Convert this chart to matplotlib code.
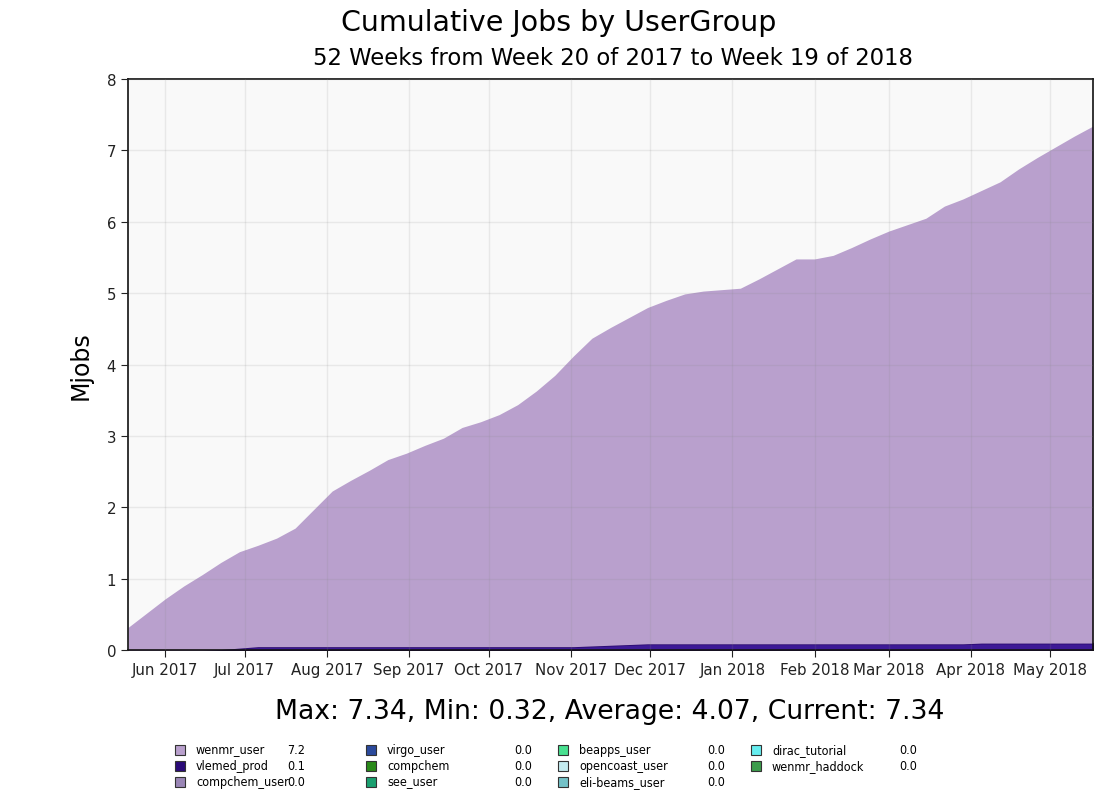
import numpy as np
import pandas as pd
import matplotlib
matplotlib.use('Agg')
import matplotlib.pyplot as plt
import matplotlib.dates as mdates
from matplotlib import font_manager as fm
from matplotlib.patches import Rectangle

# weekly bins, week 20 of 2017 .. week 19 of 2018
weeks = pd.date_range('2017-05-18', periods=53, freq='7D')

# cumulative jobs (millions)
vlemed_prod = [0.0, 0.0, 0.0, 0.0, 0.0, 0.01, 0.03, 0.05, 0.05, 0.05,
               0.05, 0.05, 0.05, 0.05, 0.05, 0.05, 0.05, 0.05, 0.05, 0.05,
               0.05, 0.05, 0.05, 0.05, 0.05, 0.06, 0.07, 0.08, 0.09, 0.09,
               0.09, 0.09, 0.09, 0.09, 0.09, 0.09, 0.09, 0.09, 0.09, 0.09,
               0.09, 0.09, 0.09, 0.09, 0.09, 0.09, 0.10, 0.10, 0.10, 0.10,
               0.10, 0.10, 0.10]
total = [0.32, 0.52, 0.72, 0.90, 1.06, 1.23, 1.38, 1.47, 1.57, 1.71,
         1.97, 2.23, 2.38, 2.52, 2.67, 2.76, 2.87, 2.97, 3.12, 3.20,
         3.30, 3.44, 3.63, 3.85, 4.12, 4.37, 4.52, 4.66, 4.80, 4.90,
         4.99, 5.03, 5.05, 5.07, 5.20, 5.34, 5.48, 5.48, 5.53, 5.64,
         5.76, 5.87, 5.96, 6.05, 6.22, 6.32, 6.44, 6.56, 6.74, 6.90,
         7.05, 7.20, 7.34]

legend_names = ['wenmr_user', 'vlemed_prod', 'compchem_user',
                'virgo_user', 'compchem', 'see_user',
                'beapps_user', 'opencoast_user', 'eli-beams_user',
                'dirac_tutorial', 'wenmr_haddock']
legend_values = ['7.2', '0.1', '0.0', '0.0', '0.0', '0.0',
                 '0.0', '0.0', '0.0', '0.0', '0.0']
legend_colors = ['#b9a0cd', '#2a0a78', '#9a86b6', '#2b4a9c', '#2a8a1a',
                 '#1aa070', '#48e090', '#c4ecf0', '#74c2c8', '#66eef0',
                 '#3c9c4c']

# narrow font for the legend if one is installed
names = set(f.name for f in fm.fontManager.ttflist)
if 'Liberation Sans Narrow' in names:
    leg_font = dict(family='Liberation Sans Narrow', fontsize=10.5)
else:
    leg_font = dict(family='DejaVu Sans', fontstretch='condensed', fontsize=9)

fig = plt.figure(figsize=(10.95, 8.04), dpi=100, facecolor='white')
ax = fig.add_axes([0.117, 0.19, 0.881, 0.7105])
ax.set_facecolor('#f9f9f9')

ax.fill_between(weeks, 0, vlemed_prod, color='#3d1a96', edgecolor='#2a0a70',
                linewidth=1.2, zorder=2)
ax.fill_between(weeks, vlemed_prod, total, color='#b9a0cd', linewidth=0, zorder=2)

ax.set_xlim(weeks[0], weeks[-1])
ax.set_ylim(0, 8)
ax.set_yticks(range(0, 9))
ax.xaxis.set_major_locator(mdates.MonthLocator())
ax.xaxis.set_major_formatter(mdates.DateFormatter('%b %Y'))
ax.tick_params(axis='both', direction='out', length=5, labelsize=10.8, colors='#222222')
ax.grid(True, color='#888888', alpha=0.15, linewidth=1.0, zorder=3)
ax.set_axisbelow(False)
for s in ax.spines.values():
    s.set_color('#111111')
    s.set_linewidth(1.2)

ax.set_ylabel('Mjobs', fontsize=17, labelpad=10)

fig.text(0.51, 0.971, 'Cumulative Jobs by UserGroup', ha='center', va='center', fontsize=20.5)
fig.text(0.56, 0.927, '52 Weeks from Week 20 of 2017 to Week 19 of 2018',
         ha='center', va='center', fontsize=16.4)
fig.text(0.557, 0.114, 'Max: 7.34, Min: 0.32, Average: 4.07, Current: 7.34',
         ha='center', va='center', fontsize=19.2)

# legend: 4 columns x 3 rows
col_x = [180, 371, 563, 756]
val_x = [296, 523, 716, 908]
row_y = [751, 767, 783]
W, H = 1095.0, 804.0
for i, (name, val, col) in enumerate(zip(legend_names, legend_values, legend_colors)):
    c, r = divmod(i, 3)
    x0 = col_x[c]
    y0 = row_y[r]
    fig.patches.append(Rectangle(((x0 - 5) / W, 1 - (y0 + 5) / H), 10 / W, 10 / H,
                                 transform=fig.transFigure, facecolor=col,
                                 edgecolor='#333333', linewidth=0.8))
    fig.text((x0 + 16) / W, 1 - y0 / H, name, ha='left', va='center', **leg_font)
    fig.text(val_x[c] / W, 1 - y0 / H, val, ha='center', va='center', **leg_font)

fig.savefig('out.png', dpi=100, facecolor=fig.get_facecolor())
